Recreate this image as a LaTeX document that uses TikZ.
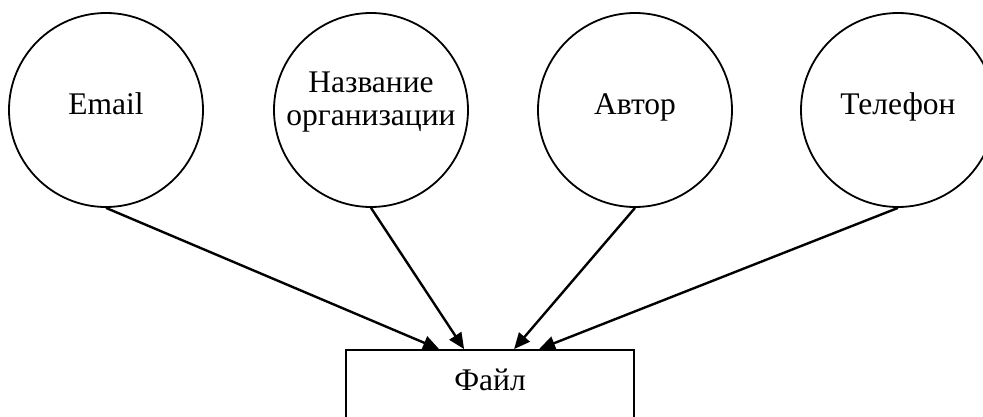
\documentclass[tikz,border=0pt]{standalone}
\usepackage{fontspec}
\setmainfont{Liberation Serif}
\usetikzlibrary{arrows.meta}
\begin{document}
\begin{tikzpicture}[x=1pt,y=-1pt,
  ent/.style={draw,circle,line width=1.8pt,minimum size=194pt,inner sep=0pt,
    font=\fontsize{31.5}{33}\selectfont},
  oneline/.style={text height=20pt,text depth=10pt},
  filebox/.style={draw,rectangle,line width=1.8pt,minimum width=288pt,minimum height=68pt,
    inner sep=0pt,font=\fontsize{31.5}{33}\selectfont,text height=20pt,text depth=8pt},
  arr/.style={line width=2.4pt,-{Triangle[length=16pt,width=14pt]}}]
\clip (0,0) rectangle (983,417);
\fill[white] (0,0) rectangle (983,417);
\node[ent,oneline] (e) at (106,110) {Email};
\node[ent,label={[align=center,font=\fontsize{31.5}{33}\selectfont,yshift=7.5pt]center:Название\\организации}] (n) at (371,110) {};
\node[ent,oneline] (a) at (635,110) {Автор};
\node[ent,oneline] (t) at (898,110) {Телефон};
\node[filebox] (f) at (490,384) {Файл};
\coordinate (p1) at ([xshift=94pt]f.north west);
\coordinate (p2) at ([xshift=119pt]f.north west);
\coordinate (p3) at ([xshift=169pt]f.north west);
\coordinate (p4) at ([xshift=194pt]f.north west);
\draw[arr] (e.south) -- (p1);
\draw[arr] (n.south) -- (p2);
\draw[arr] (a.south) -- (p3);
\draw[arr] (t.south) -- (p4);
\end{tikzpicture}
\end{document}
